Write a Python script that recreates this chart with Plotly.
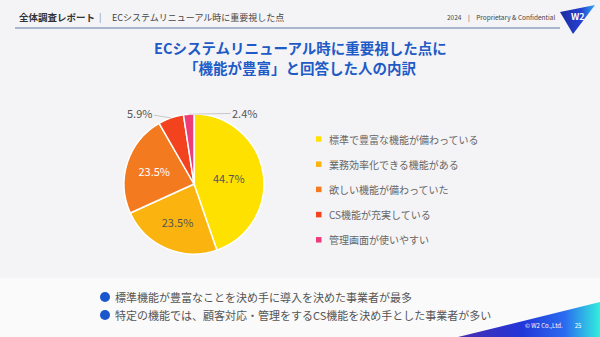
import math
import plotly.graph_objects as go

categories = ["標準で豊富な機能が備わっている", "業務効率化できる機能がある", "欲しい機能が備わっていた",
              "CS機能が充実している", "管理画面が使いやすい"]
values = [44.7, 23.5, 23.5, 5.9, 2.4]
colors = ["#FFE100", "#FBB40F", "#F47A20", "#F2421E", "#EE3C78"]
text_colors = ["#555555", "#555555", "#FFFFFF", "#555555", "#555555"]
text_pos = ["inside", "inside", "inside", "none", "none"]
# label offsets (pixels) for the small slices labelled outside with leader lines
outside_offsets = {3: (-31, -5), 4: (56, -1)}

header_left = "全体調査レポート"
header_sub = "ECシステムリニューアル時に重要視した点"
header_right = "2024　|　Proprietary & Confidential"
title_lines = ["ECシステムリニューアル時に重要視した点に", "「機能が豊富」と回答した人の内訳"]
bullets = ["標準機能が豊富なことを決め手に導入を決めた事業者が最多",
           "特定の機能では、顧客対応・管理をするCS機能を決め手とした事業者が多い"]
footer = "© W2 Co.,Ltd.　　25"

FONT = "Noto Sans CJK JP"
W, H = 600, 337
CX, CY, R = 194, 184, 70

fig = go.Figure()

# background panels
shapes = [
    dict(type="rect", xref="x", yref="y", x0=0, x1=W, y0=0, y1=278, fillcolor="#F4F4F7", line_width=0, layer="below"),
    dict(type="rect", xref="x", yref="y", x0=0, x1=W, y0=278, y1=H, fillcolor="#FAFAFA", line_width=0, layer="below"),
    dict(type="line", xref="x", yref="y", x0=15, x1=560, y0=28, y1=28, line=dict(color="#A9B6CE", width=2)),
]

# footer gradient triangle
fig.add_trace(go.Scatter(x=[458, 600, 600, 458], y=[337, 302, 337, 337], mode="lines", fill="toself",
                         line=dict(width=0), hoverinfo="skip", showlegend=False,
                         fillgradient=dict(type="horizontal",
                                           colorscale=[[0, "#4A2FB0"], [0.45, "#2236D8"], [0.75, "#2A6BF0"], [1, "#33EEDD"]])))
# logo triangle
fig.add_trace(go.Scatter(x=[560, 595, 573, 560], y=[12, 5, 34, 12], mode="lines", fill="toself",
                         line=dict(width=0), hoverinfo="skip", showlegend=False,
                         fillgradient=dict(type="horizontal",
                                           colorscale=[[0, "#1E2AA0"], [0.6, "#2440D0"], [1, "#2FA8F0"]])))

fig.add_trace(go.Pie(
    values=values, labels=categories, sort=False, direction="clockwise", rotation=0,
    marker=dict(colors=colors, line=dict(color="white", width=1.5)),
    texttemplate="%{value:.1f}%", textposition=text_pos,
    textfont=dict(family=FONT, size=11, color=text_colors),
    insidetextorientation="horizontal",
    domain=dict(x=[(CX - R) / W, (CX + R) / W], y=[1 - (CY + R) / H, 1 - (CY - R) / H]),
    showlegend=False, hoverinfo="skip",
))

ann = []
# outside labels with leader lines, anchored at slice mid-angles derived from the values
total = sum(values)
cum = 0.0
for i, v in enumerate(values):
    mid = (cum + v / 2) / total * 2 * math.pi
    cum += v
    if i in outside_offsets:
        px = CX + R * math.sin(mid)
        py = CY - R * math.cos(mid)
        ax, ay = outside_offsets[i]
        ann.append(dict(x=px, y=py, text=f"{v:.1f}%", showarrow=True, arrowhead=0, arrowwidth=1,
                        arrowcolor="#C8C8C8", ax=ax, ay=ay, axref="pixel", ayref="pixel", standoff=0,
                        font=dict(family=FONT, size=11, color="#555555")))

ann.append(dict(x=17, y=17, text=f"<b>{header_left}</b>", showarrow=False, xanchor="left", yanchor="middle",
                font=dict(family=FONT, size=9.5, color="#333333")))
ann.append(dict(x=97, y=17, text="|", showarrow=False, xanchor="left", yanchor="middle",
                font=dict(family=FONT, size=9, color="#888888")))
ann.append(dict(x=110, y=17, text=header_sub, showarrow=False, xanchor="left", yanchor="middle",
                font=dict(family=FONT, size=9, color="#444444")))
ann.append(dict(x=557, y=17, text=header_right, showarrow=False, xanchor="right", yanchor="middle",
                font=dict(family=FONT, size=6.5, color="#444444")))
ann.append(dict(x=578, y=16, text="<b>W2</b>", showarrow=False, xanchor="center", yanchor="middle",
                font=dict(family=FONT, size=9, color="white")))
for i, t in enumerate(title_lines):
    ann.append(dict(x=300, y=47 + 20 * i, text=f"<b>{t}</b>", showarrow=False, xanchor="center", yanchor="middle",
                    font=dict(family=FONT, size=14.5, color="#1F5BC6")))
for i, (c, col) in enumerate(zip(categories, colors)):
    yy = 139 + 25.2 * i
    shapes.append(dict(type="rect", xref="x", yref="y", x0=316, x1=321.5, y0=yy - 2.75, y1=yy + 2.75,
                       fillcolor=col, line_width=0))
    ann.append(dict(x=327, y=yy, text=c, showarrow=False, xanchor="left", yanchor="middle",
                    font=dict(family=FONT, size=10, color="#666666")))
for i, b in enumerate(bullets):
    yy = 297 + 18 * i
    shapes.append(dict(type="circle", xref="x", yref="y", x0=100, x1=110, y0=yy - 5, y1=yy + 5,
                       fillcolor="#1A56CC", line_width=0))
    ann.append(dict(x=113, y=yy, text=b, showarrow=False, xanchor="left", yanchor="middle",
                    font=dict(family=FONT, size=11, color="#555555")))
ann.append(dict(x=583, y=325, text=footer, showarrow=False, xanchor="right", yanchor="middle",
                font=dict(family=FONT, size=6, color="white")))

fig.update_layout(
    width=W, height=H, margin=dict(l=0, r=0, t=0, b=0),
    paper_bgcolor="#F4F4F7", plot_bgcolor="rgba(0,0,0,0)",
    xaxis=dict(range=[0, W], visible=False, domain=[0, 1], fixedrange=True),
    yaxis=dict(range=[H, 0], visible=False, domain=[0, 1], fixedrange=True),
    shapes=shapes, annotations=ann, showlegend=False,
    font=dict(family=FONT),
)
for a in fig.layout.annotations:
    a.xref = "x"
    a.yref = "y"

fig.write_html("out.html", config={"displayModeBar": False})
